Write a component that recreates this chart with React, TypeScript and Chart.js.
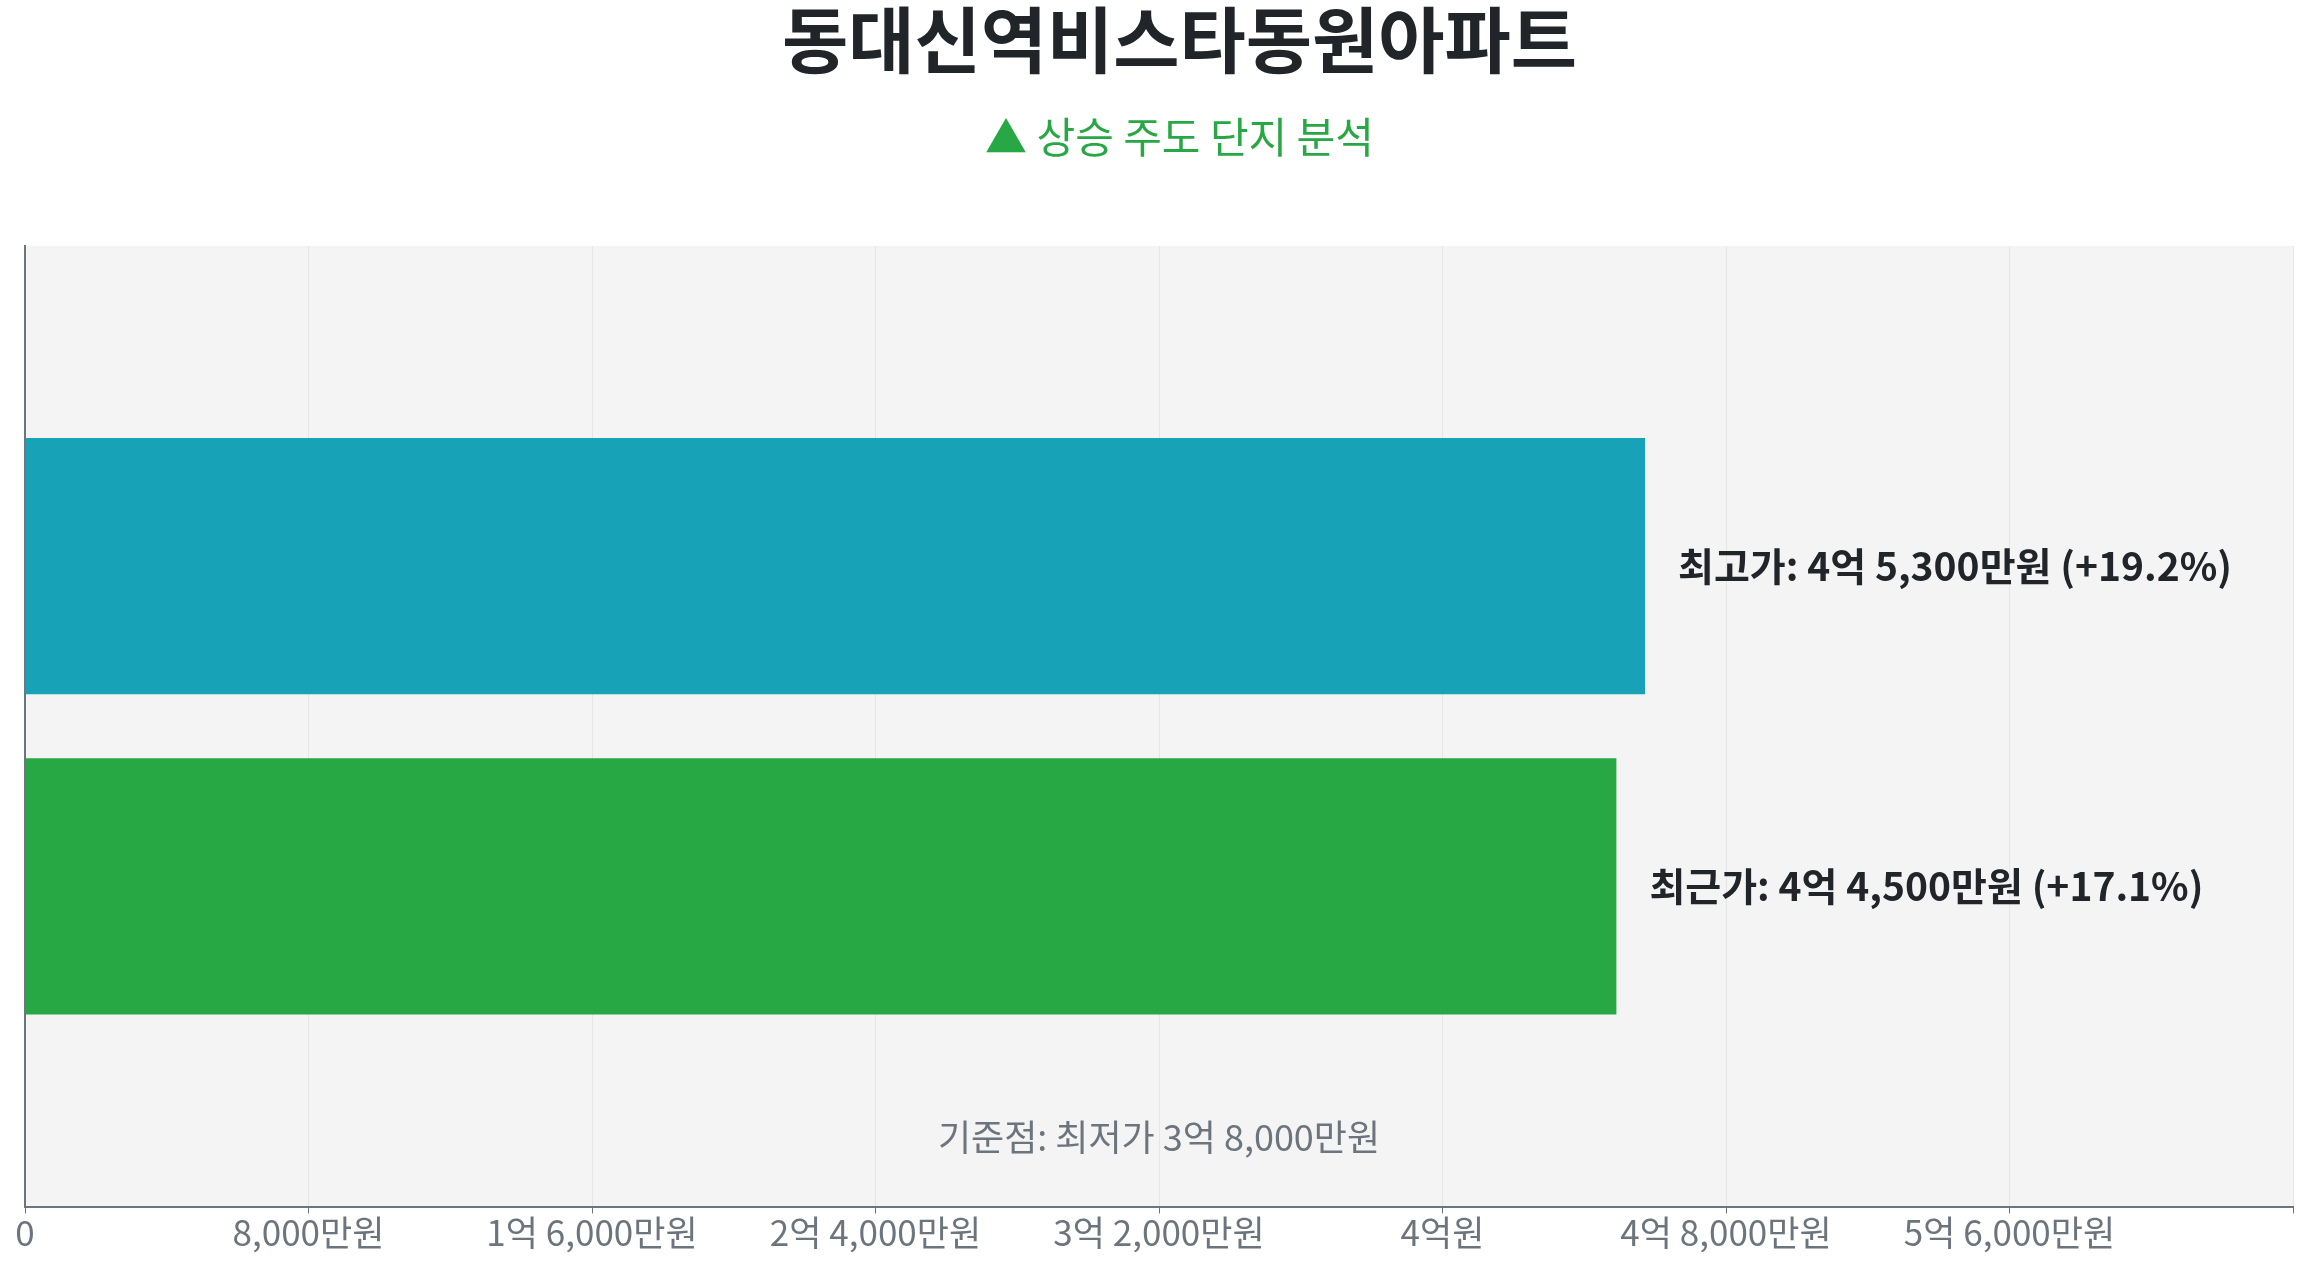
import React, { useEffect, useRef } from 'react';
import { Chart, ChartConfiguration, Plugin, registerables } from 'chart.js';

Chart.register(...registerables);

const categories = ['동대신역비스타동원아파트'];
const seriesNames = ['최고가', '최근가'];
const highValues = [45300];
const recentValues = [44500];
const lowestValue = 38000; // 기준점 (최저가)
const tickLabels = ['0', '8,000만원', '1억 6,000만원', '2억 4,000만원', '3억 2,000만원', '4억원', '4억 8,000만원', '5억 6,000만원'];
const titleText = '동대신역비스타동원아파트';
const subtitleText = '▲ 상승 주도 단지 분석';

const FONT = '"Noto Sans CJK KR", "Noto Sans", sans-serif';

const toWon = (v: number) => {
  const eok = Math.floor(v / 10000);
  const man = v % 10000;
  if (eok && man) return `${eok}억 ${man.toLocaleString('en-US')}만원`;
  if (eok) return `${eok}억원`;
  return `${man.toLocaleString('en-US')}만원`;
};

const plotBackground: Plugin = {
  id: 'plotBackground',
  beforeDraw(chart) {
    const { ctx, chartArea } = chart;
    ctx.save();
    ctx.fillStyle = '#f4f4f4';
    ctx.fillRect(chartArea.left, chartArea.top, chartArea.right - chartArea.left, chartArea.bottom - chartArea.top);
    ctx.restore();
  },
};

// title block sits a little right of the canvas centre in the original
const header: Plugin = {
  id: 'header',
  afterDraw(chart) {
    const { ctx } = chart;
    const cx = chart.width / 2 + 26;
    ctx.save();
    ctx.textAlign = 'center';
    ctx.textBaseline = 'middle';
    ctx.fillStyle = '#212529';
    ctx.font = `bold 72px ${FONT}`;
    ctx.fillText(titleText, cx, 40);
    ctx.fillStyle = '#28a745';
    ctx.font = `42px ${FONT}`;
    ctx.fillText(subtitleText, cx, 137.5);
    ctx.restore();
  },
};

const barLabels: Plugin = {
  id: 'barLabels',
  afterDatasetsDraw(chart) {
    const { ctx } = chart;
    ctx.save();
    ctx.font = `bold 39px ${FONT}`;
    ctx.fillStyle = '#212529';
    ctx.textAlign = 'left';
    ctx.textBaseline = 'middle';
    chart.data.datasets.forEach((ds, i) => {
      const meta = chart.getDatasetMeta(i);
      meta.data.forEach((bar: any, j) => {
        const v = ds.data[j] as number;
        const pct = ((v - lowestValue) / lowestValue) * 100;
        ctx.fillText(`${ds.label}: ${toWon(v)} (+${pct.toFixed(1)}%)`, bar.x + 33, bar.y);
      });
    });
    // baseline note
    const { chartArea } = chart;
    ctx.font = `36px ${FONT}`;
    ctx.fillStyle = '#6c757d';
    ctx.textAlign = 'center';
    ctx.fillText(`기준점: 최저가 ${toWon(lowestValue)}`, (chartArea.left + chartArea.right) / 2, chartArea.bottom - 69);
    ctx.restore();
  },
};

const App: React.FC = () => {
  const canvasRef = useRef<HTMLCanvasElement | null>(null);

  useEffect(() => {
    if (!canvasRef.current) return;
    const config: ChartConfiguration<'bar'> = {
      type: 'bar',
      data: {
        labels: categories,
        datasets: [
          {
            label: seriesNames[0],
            data: highValues,
            backgroundColor: '#17a2b8',
            categoryPercentage: 0.667,
            barPercentage: 0.8,
          },
          {
            label: seriesNames[1],
            data: recentValues,
            backgroundColor: '#28a745',
            categoryPercentage: 0.667,
            barPercentage: 0.8,
          },
        ],
      },
      options: {
        indexAxis: 'y',
        responsive: false,
        maintainAspectRatio: false,
        devicePixelRatio: 1,
        animation: false,
        layout: { padding: { left: 17, right: 14, top: 246, bottom: 16 } },
        plugins: {
          legend: { display: false },
          tooltip: { enabled: false },
          title: { display: false },
        },
        scales: {
          x: {
            min: 0,
            max: Math.max(...highValues) * 1.4,
            ticks: {
              stepSize: 8000,
              includeBounds: false,
              padding: 0,
              color: '#6c757d',
              font: { family: FONT, size: 35, lineHeight: 1.1 },
              maxRotation: 0,
              autoSkip: false,
              callback: (_v, i) => tickLabels[i] ?? '',
            },
            grid: { color: '#e6e6e6', lineWidth: 1, tickLength: 7, tickColor: '#6c757d' },
            border: { display: true, color: '#6c757d', width: 2 },
          },
          y: {
            ticks: { display: false },
            grid: { display: false },
            border: { display: true, color: '#6c757d', width: 2 },
          },
        },
      },
      plugins: [plotBackground, barLabels, header],
    };
    const chart = new Chart(canvasRef.current, config);
    return () => chart.destroy();
  }, []);

  return (
    <div style={{ position: 'absolute', left: 0, top: 0, width: 2307, height: 1268, background: '#ffffff' }}>
      <canvas ref={canvasRef} width={2307} height={1268} style={{ display: 'block' }}></canvas>
    </div>
  );
};

export default App;
